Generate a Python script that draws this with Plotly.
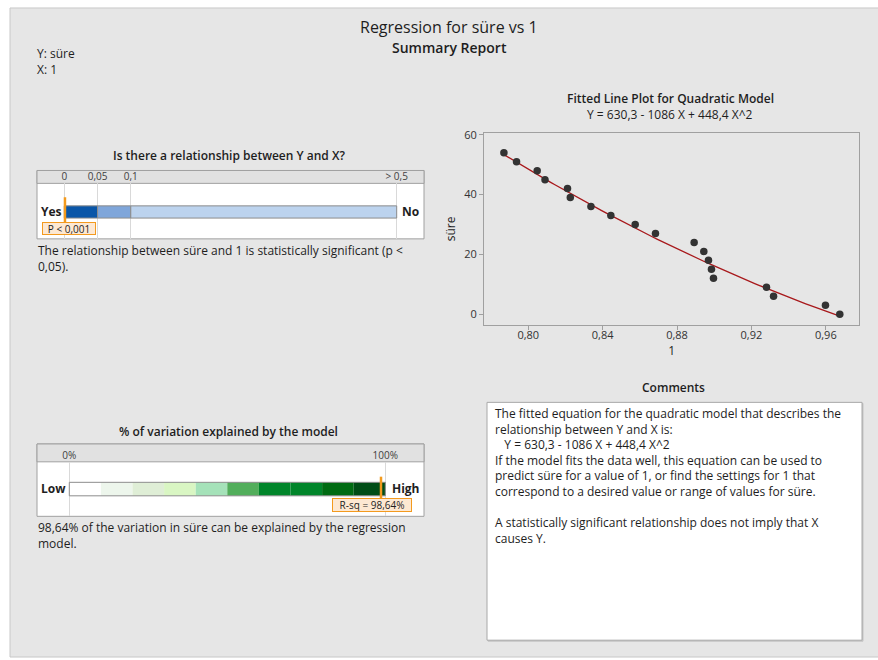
import numpy as np
import plotly.graph_objects as go

# ---------------------------------------------------------------- data
x_vals = [0.7869, 0.7937, 0.8048, 0.8090, 0.8211, 0.8226, 0.8337, 0.8444, 0.8575,
          0.8684, 0.8892, 0.8944, 0.8969, 0.8985, 0.8996, 0.9281, 0.9319, 0.9598, 0.9675]
y_vals = [54, 51, 48, 45, 42, 39, 36, 33, 30, 27, 24, 21, 18, 15, 12, 9, 6, 3, 0]
fit_coef = [630.3, -1086.0, 448.4]          # b0, b1, b2 of the quadratic model

p_value = 0.001
p_breaks = [0.0, 0.05, 0.1, 0.5]
p_tick_text = ["0", "0,05", "0,1", "> 0,5"]
p_colors = ["#0A56A8", "#7FA6DA", "#BCD3EE"]

r_sq = 98.64
r_breaks = [0, 10, 20, 30, 40, 50, 60, 70, 80, 90, 100]
r_colors = ["#FFFFFF", "#EDF6EC", "#DFEED6", "#D9F6C3", "#A5E2B9",
            "#52AE5B", "#00852A", "#00852A", "#006B12", "#004D16"]

relationship_lines = [
    "The relationship between süre and 1 is statistically significant (p <",
    "0,05).",
]
variation_lines = [
    "98,64% of the variation in süre can be explained by the regression",
    "model.",
]
comment_lines = [
    "The fitted equation for the quadratic model that describes the",
    "relationship between Y and X is:",
    "&nbsp;&nbsp;&nbsp;Y = 630,3 - 1086 X + 448,4 X^2",
    "If the model fits the data well, this equation can be used to",
    "predict süre for a value of 1, or find the settings for 1 that",
    "correspond to a desired value or range of values for süre.",
    "",
    "A statistically significant relationship does not imply that X",
    "causes Y.",
]

# ---------------------------------------------------------------- helpers
W, H = 878, 660
FONT = "Open Sans"
TXT = "#1E1E1E"
FRAME = "#A0A0A0"
PANEL = "#E6E6E6"


def px(x):
    return x / W


def py(y):
    return 1 - y / H


def label(x, y, text, size=12, weight=400, anchor="center", align="left",
          color=TXT, **kw):
    kw.setdefault("borderpad", 0)
    return dict(x=px(x), y=py(y), xref="paper", yref="paper", text=text,
                showarrow=False, xanchor=anchor, yanchor="middle", align=align,
                font=dict(family=FONT, size=size, color=color, weight=weight), **kw)


def rect(x0, y0, x1, y1, fill, line=FRAME, width=1, layer="below"):
    return dict(type="rect", xref="paper", yref="paper",
                x0=px(x0), x1=px(x1), y0=py(y1), y1=py(y0),
                fillcolor=fill, line=dict(color=line, width=width), layer=layer)


fig = go.Figure()

# ---------------------------------------------------------------- fitted line plot
xf = np.linspace(min(x_vals), max(x_vals), 80)
yf = fit_coef[0] + fit_coef[1] * xf + fit_coef[2] * xf ** 2
fig.add_trace(go.Scatter(x=xf, y=yf, mode="lines",
                         line=dict(color="#A8191C", width=1.3),
                         hoverinfo="skip", xaxis="x", yaxis="y"))
fig.add_trace(go.Scatter(x=x_vals, y=y_vals, mode="markers",
                         marker=dict(color="#333333", size=7.5),
                         xaxis="x", yaxis="y"))

# ---------------------------------------------------------------- p-value bar
p_starts = p_breaks[:-1]
p_widths = [b - a for a, b in zip(p_breaks[:-1], p_breaks[1:])]
fig.add_trace(go.Bar(y=[0] * len(p_widths), x=p_widths, base=p_starts,
                     orientation="h", width=1,
                     marker=dict(color=p_colors, line=dict(color="#8C8C8C", width=1)),
                     xaxis="x2", yaxis="y2"))

# ---------------------------------------------------------------- R-sq bar
r_starts = r_breaks[:-1]
r_widths = [b - a for a, b in zip(r_breaks[:-1], r_breaks[1:])]
fig.add_trace(go.Bar(y=[0] * len(r_widths), x=r_widths, base=r_starts,
                     orientation="h", width=1,
                     marker=dict(color=r_colors, line=dict(width=0)),
                     xaxis="x3", yaxis="y3"))

shapes = [
    # report panel
    rect(10, 2, 879, 657, PANEL, line="#C8C8C8"),
    # relationship box
    rect(37, 166, 424, 235, "white"),
    rect(37, 166, 424, 179, "#E1E1E1"),
    # R-sq box
    rect(37, 442, 424, 515, "white"),
    rect(37, 442, 424, 460, "#E1E1E1"),
    # comments box with a faint drop shadow
    rect(488, 401, 863, 641, "#C4C4C4", line="#C4C4C4"),
    rect(487, 400, 862, 640, "white", line="#A8A8A8"),
    # outline of the R-sq bar
    dict(type="rect", xref="x3", yref="y3", x0=r_breaks[0], x1=r_breaks[-1],
         y0=-0.5, y1=0.5, line=dict(color="#8C8C8C", width=1), layer="above"),
    # p-value marker
    dict(type="line", xref="x2", yref="paper", x0=p_value, x1=p_value,
         y0=py(222), y1=py(193), line=dict(color="#F39A1E", width=2.5), layer="above"),
    # R-sq marker
    dict(type="line", xref="x3", yref="paper", x0=r_sq, x1=r_sq,
         y0=py(498), y1=py(475), line=dict(color="#F39A1E", width=2.5), layer="above"),
]

annotations = [
    label(449, 21, "Regression for süre vs 1", size=16),
    label(449, 42, "Summary Report", size=14, weight=600),
    label(36, 48, "Y: süre", anchor="left"),
    label(36, 64, "X: 1", anchor="left"),
    label(670, 93, "Fitted Line Plot for Quadratic Model", weight=600),
    label(670, 109.5, "Y = 630,3 - 1086 X + 448,4 X^2"),
    # relationship panel
    label(229, 150.5, "Is there a relationship between Y and X?", weight=600),
    label(51, 207.5, "Yes", weight=700),
    label(410, 207.5, "No", weight=700),
    label(68.5, 224.5, "P &lt; 0,001", size=10, align="center", bgcolor="#FDE8D2",
          bordercolor="#F39A1E", borderwidth=1, width=52, height=11),
    label(37, 254.5, "<br>".join(relationship_lines), anchor="left"),
    # R-sq panel
    label(228, 429.5, "% of variation explained by the model", weight=600),
    label(53, 486.5, "Low", weight=700),
    label(406, 486.5, "High", weight=700),
    label(372, 503.5, "R-sq = 98,64%", size=10, align="center", bgcolor="#FDE8D2",
          bordercolor="#F39A1E", borderwidth=1, width=78, height=12),
    label(37, 534, "<br>".join(variation_lines), anchor="left"),
    # comments
    label(673, 384.5, "Comments", weight=600),
    label(494, 474, "<br>".join(comment_lines), anchor="left"),
]

axis_font = dict(family=FONT, size=11, color="#333333")
fig.update_layout(
    width=W, height=H,
    margin=dict(l=0, r=0, t=0, b=0),
    paper_bgcolor="white", plot_bgcolor="white",
    separators=", ",
    showlegend=False,
    barmode="overlay",
    shapes=shapes,
    annotations=annotations,
    xaxis=dict(domain=[px(484), px(859.3)], anchor="y",
               range=[0.7762, 0.978], tickvals=[0.80, 0.84, 0.88, 0.92, 0.96],
               tickformat=".2f", ticks="outside", ticklen=4, tickcolor=FRAME,
               ticklabelstandoff=-4,
               showline=True, mirror=True, linecolor=FRAME, showgrid=False,
               zeroline=False, tickfont=axis_font,
               title=dict(text="1", font=dict(family=FONT, size=12, color=TXT),
                          standoff=4)),
    yaxis=dict(domain=[py(321.7), py(128.3)], anchor="x",
               range=[-3.55, 60.56], tickvals=[0, 20, 40, 60],
               ticks="outside", ticklen=4, tickcolor=FRAME,
               showline=True, mirror=True, linecolor=FRAME, showgrid=False,
               zeroline=False, tickfont=axis_font,
               title=dict(text="süre", font=dict(family=FONT, size=12, color=TXT),
                          standoff=6)),
    xaxis2=dict(domain=[px(37), px(424)], anchor="y2", side="top",
                range=[(37 - 64.3) / 664.8, (424 - 64.3) / 664.8],
                tickvals=p_breaks, ticktext=p_tick_text, ticks="",
                showgrid=True, gridcolor="#D9D9D9", zeroline=False, showline=False,
                tickfont=dict(family=FONT, size=10, color="#404040")),
    yaxis2=dict(domain=[py(235), py(179)], anchor="x2",
                range=[-2.207, 2.346], visible=False),
    xaxis3=dict(domain=[px(37), px(424)], anchor="y3", side="top",
                range=[(37 - 69.3) / 3.16, (424 - 69.3) / 3.16],
                tickvals=[0, 100], ticktext=["0%", "100%"], ticks="",
                showgrid=True, gridcolor="#D9D9D9", zeroline=False, showline=False,
                tickfont=dict(family=FONT, size=10, color="#404040")),
    yaxis3=dict(domain=[py(515), py(460)], anchor="x3",
                range=[-2.02, 2.02], visible=False),
)

fig.write_html("out.html")
